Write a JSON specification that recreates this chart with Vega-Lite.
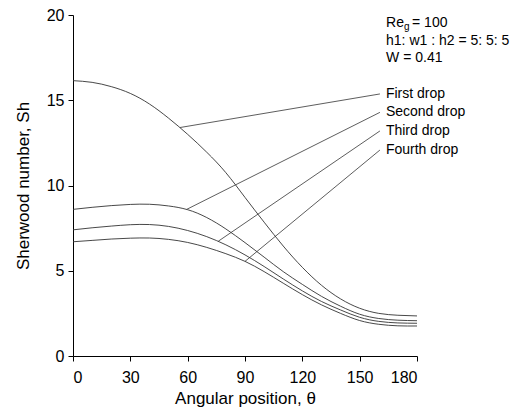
{
  "$schema": "https://vega.github.io/schema/vega-lite/v6.json",
  "width": 344,
  "height": 341,
  "autosize": "none",
  "padding": {"left": 73, "top": 15, "right": 102, "bottom": 53},
  "background": "white",
  "config": {
    "view": {"stroke": null},
    "font": "Liberation Sans",
    "axis": {
      "grid": false,
      "domainColor": "black",
      "domainWidth": 1,
      "tickColor": "black",
      "tickSize": 5,
      "labelColor": "black",
      "labelFontSize": 16,
      "titleColor": "black",
      "titleFontSize": 17,
      "titleFontWeight": "normal",
      "labelFont": "Liberation Sans",
      "titleFont": "Liberation Sans"
    }
  },
  "datasets": {
    "curves": [
      {"drop": "First", "theta": 0, "sh": 16.15}, {"drop": "First", "theta": 10, "sh": 16.05}, {"drop": "First", "theta": 20, "sh": 15.8}, {"drop": "First", "theta": 30, "sh": 15.4}, {"drop": "First", "theta": 40, "sh": 14.78}, {"drop": "First", "theta": 50, "sh": 13.95}, {"drop": "First", "theta": 60, "sh": 13.0}, {"drop": "First", "theta": 70, "sh": 11.95}, {"drop": "First", "theta": 80, "sh": 10.75}, {"drop": "First", "theta": 90, "sh": 9.3}, {"drop": "First", "theta": 100, "sh": 7.85}, {"drop": "First", "theta": 110, "sh": 6.45}, {"drop": "First", "theta": 120, "sh": 5.2}, {"drop": "First", "theta": 130, "sh": 4.15}, {"drop": "First", "theta": 140, "sh": 3.35}, {"drop": "First", "theta": 150, "sh": 2.8}, {"drop": "First", "theta": 160, "sh": 2.5}, {"drop": "First", "theta": 170, "sh": 2.39}, {"drop": "First", "theta": 180, "sh": 2.35},
      {"drop": "Second", "theta": 0, "sh": 8.6}, {"drop": "Second", "theta": 10, "sh": 8.72}, {"drop": "Second", "theta": 20, "sh": 8.82}, {"drop": "Second", "theta": 30, "sh": 8.89}, {"drop": "Second", "theta": 40, "sh": 8.9}, {"drop": "Second", "theta": 50, "sh": 8.8}, {"drop": "Second", "theta": 60, "sh": 8.58}, {"drop": "Second", "theta": 70, "sh": 8.12}, {"drop": "Second", "theta": 80, "sh": 7.45}, {"drop": "Second", "theta": 90, "sh": 6.65}, {"drop": "Second", "theta": 100, "sh": 5.8}, {"drop": "Second", "theta": 110, "sh": 4.95}, {"drop": "Second", "theta": 120, "sh": 4.2}, {"drop": "Second", "theta": 130, "sh": 3.5}, {"drop": "Second", "theta": 140, "sh": 2.92}, {"drop": "Second", "theta": 150, "sh": 2.45}, {"drop": "Second", "theta": 160, "sh": 2.2}, {"drop": "Second", "theta": 170, "sh": 2.1}, {"drop": "Second", "theta": 180, "sh": 2.07},
      {"drop": "Third", "theta": 0, "sh": 7.4}, {"drop": "Third", "theta": 10, "sh": 7.52}, {"drop": "Third", "theta": 20, "sh": 7.62}, {"drop": "Third", "theta": 30, "sh": 7.7}, {"drop": "Third", "theta": 40, "sh": 7.71}, {"drop": "Third", "theta": 50, "sh": 7.6}, {"drop": "Third", "theta": 60, "sh": 7.36}, {"drop": "Third", "theta": 70, "sh": 7.0}, {"drop": "Third", "theta": 80, "sh": 6.52}, {"drop": "Third", "theta": 90, "sh": 5.93}, {"drop": "Third", "theta": 100, "sh": 5.25}, {"drop": "Third", "theta": 110, "sh": 4.52}, {"drop": "Third", "theta": 120, "sh": 3.82}, {"drop": "Third", "theta": 130, "sh": 3.2}, {"drop": "Third", "theta": 140, "sh": 2.7}, {"drop": "Third", "theta": 150, "sh": 2.27}, {"drop": "Third", "theta": 160, "sh": 2.03}, {"drop": "Third", "theta": 170, "sh": 1.94}, {"drop": "Third", "theta": 180, "sh": 1.92},
      {"drop": "Fourth", "theta": 0, "sh": 6.7}, {"drop": "Fourth", "theta": 10, "sh": 6.78}, {"drop": "Fourth", "theta": 20, "sh": 6.86}, {"drop": "Fourth", "theta": 30, "sh": 6.91}, {"drop": "Fourth", "theta": 40, "sh": 6.92}, {"drop": "Fourth", "theta": 50, "sh": 6.84}, {"drop": "Fourth", "theta": 60, "sh": 6.66}, {"drop": "Fourth", "theta": 70, "sh": 6.37}, {"drop": "Fourth", "theta": 80, "sh": 6.0}, {"drop": "Fourth", "theta": 90, "sh": 5.55}, {"drop": "Fourth", "theta": 100, "sh": 4.95}, {"drop": "Fourth", "theta": 110, "sh": 4.27}, {"drop": "Fourth", "theta": 120, "sh": 3.6}, {"drop": "Fourth", "theta": 130, "sh": 3.0}, {"drop": "Fourth", "theta": 140, "sh": 2.5}, {"drop": "Fourth", "theta": 150, "sh": 2.08}, {"drop": "Fourth", "theta": 160, "sh": 1.86}, {"drop": "Fourth", "theta": 170, "sh": 1.77}, {"drop": "Fourth", "theta": 180, "sh": 1.76}
    ],
    "leaders": [
      {"drop": "First", "theta": 56, "sh": 13.4}, {"drop": "First", "theta": 160.6, "sh": 15.37},
      {"drop": "Second", "theta": 59.5, "sh": 8.6}, {"drop": "Second", "theta": 160.6, "sh": 14.29},
      {"drop": "Third", "theta": 76, "sh": 6.73}, {"drop": "Third", "theta": 160.6, "sh": 13.2},
      {"drop": "Fourth", "theta": 90, "sh": 5.55}, {"drop": "Fourth", "theta": 160.6, "sh": 12.08}
    ],
    "labels": [
      {"label": "First drop", "theta": 160.6, "sh": 15.37},
      {"label": "Second drop", "theta": 160.6, "sh": 14.29},
      {"label": "Third drop", "theta": 160.6, "sh": 13.2},
      {"label": "Fourth drop", "theta": 160.6, "sh": 12.08}
    ]
  },
  "layer": [
    {
      "data": {"name": "curves"},
      "mark": {"type": "line", "interpolate": "natural", "color": "#333", "strokeWidth": 0.9},
      "encoding": {
        "x": {"field": "theta", "type": "quantitative", "scale": {"domain": [0, 180], "nice": false}, "axis": {"values": [0, 30, 60, 90, 120, 150, 180], "title": "Angular position, θ", "labelPadding": 8, "titlePadding": 5}},
        "y": {"field": "sh", "type": "quantitative", "scale": {"domain": [0, 20], "nice": false}, "axis": {"values": [0, 5, 10, 15, 20], "title": "Sherwood number, Sh", "labelPadding": 4, "titlePadding": 14}},
        "detail": {"field": "drop"}
      }
    },
    {
      "data": {"name": "leaders"},
      "mark": {"type": "line", "color": "#333", "strokeWidth": 0.8},
      "encoding": {
        "x": {"field": "theta", "type": "quantitative"},
        "y": {"field": "sh", "type": "quantitative"},
        "detail": {"field": "drop"}
      }
    },
    {
      "data": {"name": "labels"},
      "mark": {"type": "text", "align": "left", "baseline": "middle", "dx": 6, "fontSize": 14, "color": "black", "font": "Liberation Sans"},
      "encoding": {
        "x": {"field": "theta", "type": "quantitative"},
        "y": {"field": "sh", "type": "quantitative"},
        "text": {"field": "label"}
      }
    },
    {
      "data": {"values": [{}]},
      "mark": {"type": "text", "align": "left", "baseline": "middle", "fontSize": 14, "color": "black", "font": "Liberation Sans", "text": "Re"},
      "encoding": {"x": {"datum": 163.8}, "y": {"datum": 19.56}}
    },
    {
      "data": {"values": [{}]},
      "mark": {"type": "text", "align": "left", "baseline": "middle", "fontSize": 10, "dx": 18, "dy": 4, "color": "black", "font": "Liberation Sans", "text": "g"},
      "encoding": {"x": {"datum": 163.8}, "y": {"datum": 19.56}}
    },
    {
      "data": {"values": [{}]},
      "mark": {"type": "text", "align": "left", "baseline": "middle", "fontSize": 14, "dx": 26, "color": "black", "font": "Liberation Sans", "text": "= 100"},
      "encoding": {"x": {"datum": 163.8}, "y": {"datum": 19.56}}
    },
    {
      "data": {"values": [{}]},
      "mark": {"type": "text", "align": "left", "baseline": "middle", "fontSize": 14, "color": "black", "font": "Liberation Sans", "text": "h1: w1 : h2 = 5: 5: 5"},
      "encoding": {"x": {"datum": 163.8}, "y": {"datum": 18.45}}
    },
    {
      "data": {"values": [{}]},
      "mark": {"type": "text", "align": "left", "baseline": "middle", "fontSize": 14, "color": "black", "font": "Liberation Sans", "text": "W = 0.41"},
      "encoding": {"x": {"datum": 163.8}, "y": {"datum": 17.45}}
    }
  ]
}
